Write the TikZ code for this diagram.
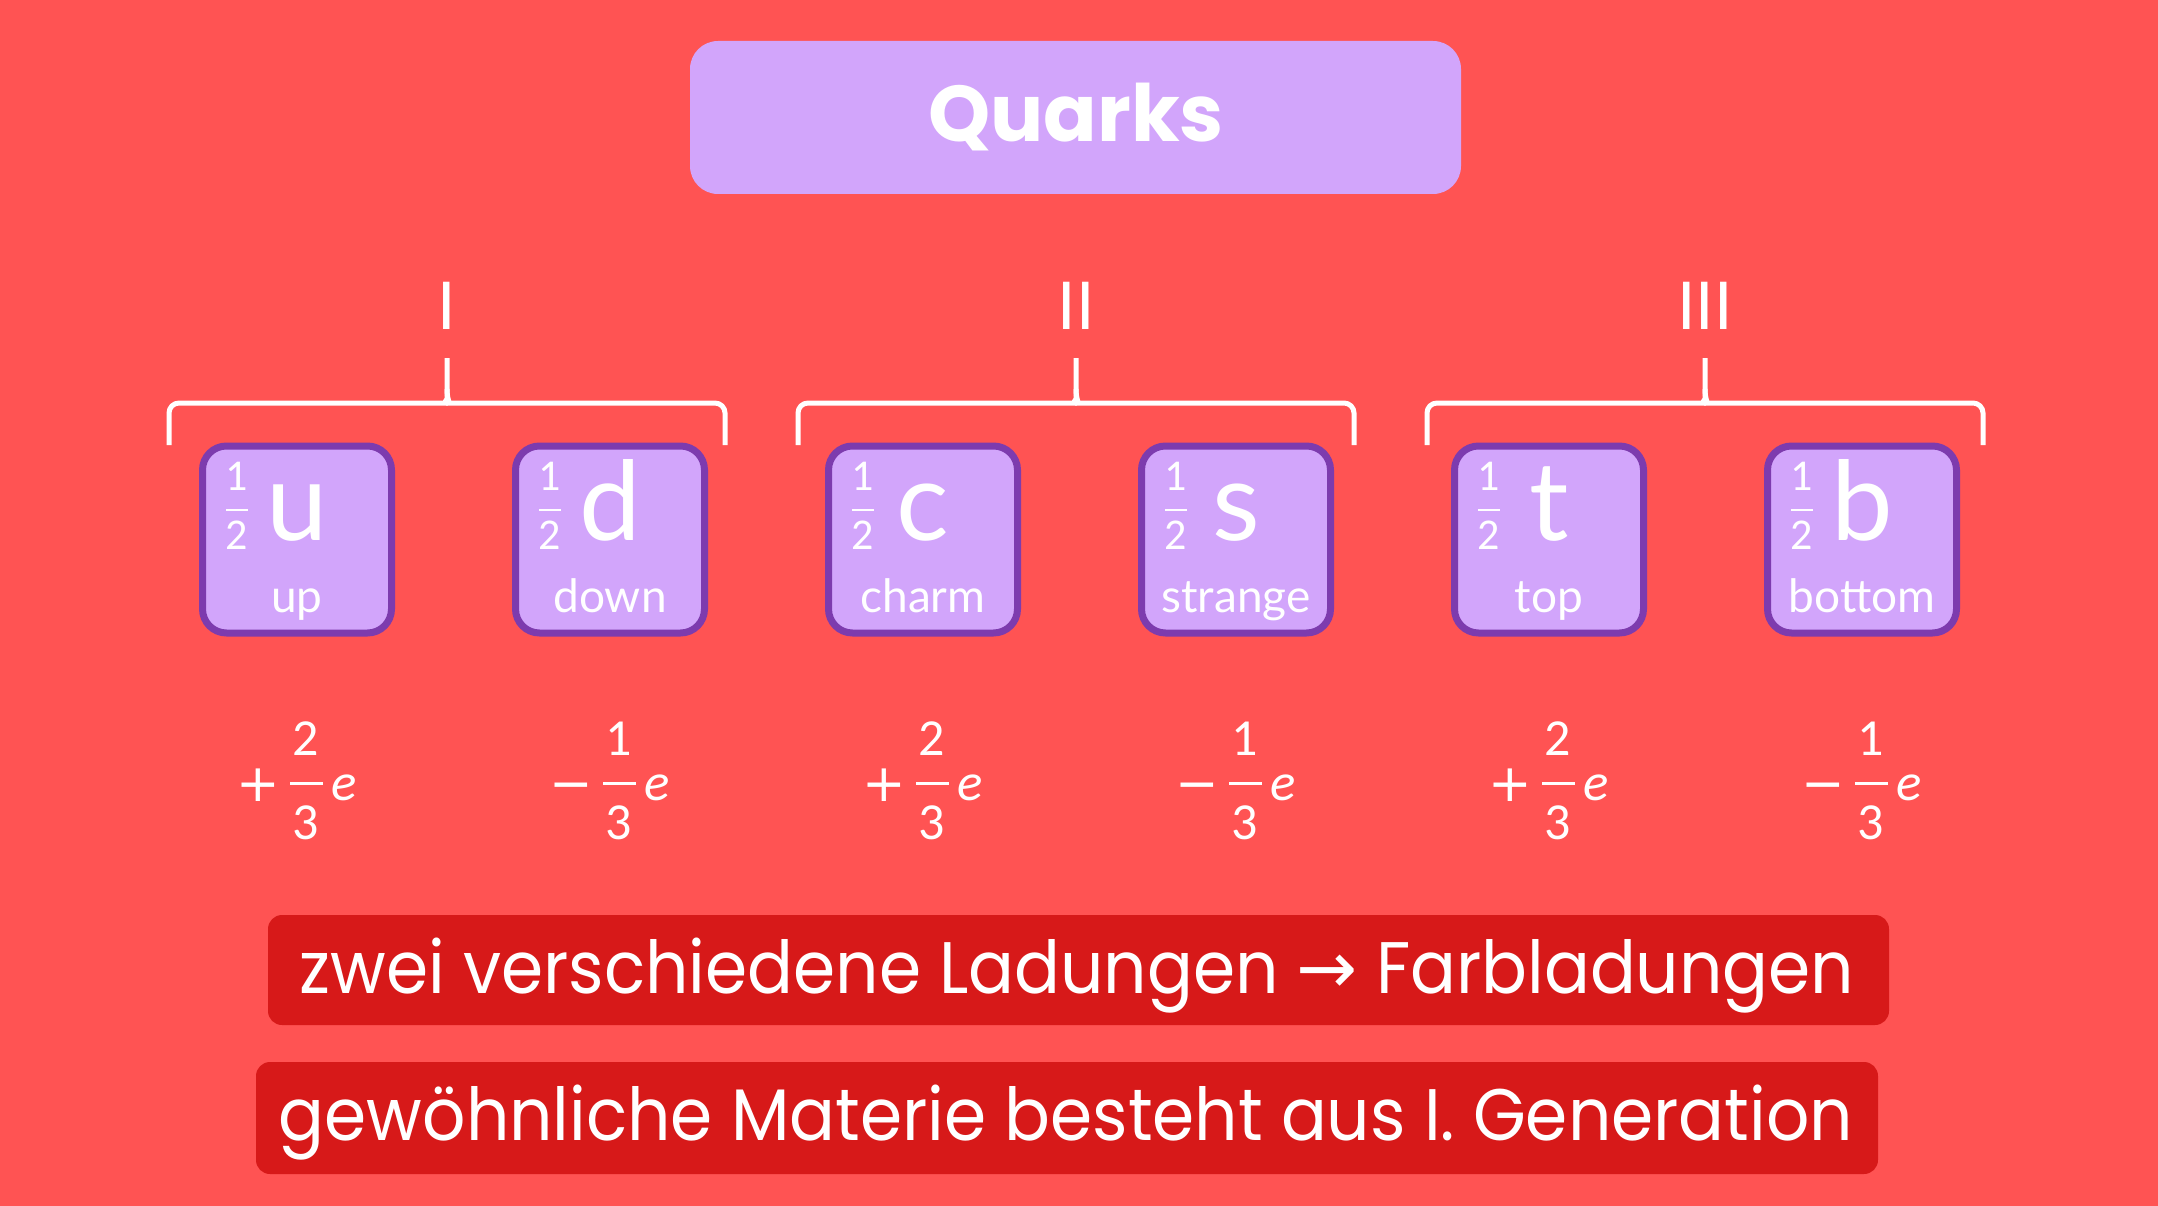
\documentclass[tikz,border=0pt]{standalone}
\usepackage{fontspec}
\setmainfont{Lato}
\newfontfamily\popfont{Poppins}
\newfontfamily\popnarrow[FakeStretch=0.93]{Poppins}
\newfontfamily\fracfont{Carlito}
\newfontfamily\arrowfont{DejaVu Sans}
\usetikzlibrary{calc, positioning}
\definecolor{bgred}{HTML}{FF5353}
\definecolor{lilac}{HTML}{D2A5FB}
\definecolor{plum}{HTML}{7D3BAE}
\definecolor{bannerred}{HTML}{D71919}
\tikzset{
    quarkbox/.style={draw=plum, fill=lilac, line width=7pt, rounded corners=24pt, minimum width=189pt, minimum height=187pt, inner sep=0pt},
    spin/.style={text=white, font=\fracfont\fontsize{44}{50}\selectfont, inner sep=0pt},
    flavour/.style={text=white, font=\fontsize{110}{120}\selectfont, inner sep=0pt, anchor=base},
    flavourname/.style={text=white, font=\fontsize{46}{50}\selectfont, inner sep=0pt, anchor=base},
    chargenum/.style={text=white, font=\fracfont\fontsize{52}{60}\selectfont, inner sep=0pt},
    chargesign/.style={text=white, font=\arrowfont\fontsize{52}{60}\selectfont, inner sep=0pt, anchor=base},
    chargee/.style={text=white, font=\fracfont\itshape\fontsize{53}{60}\selectfont, inner sep=0pt},
    fracbar/.style={draw=white, line width=3pt},
    gennum/.style={text=white, font=\fontsize{66}{70}\selectfont, inner sep=0pt, anchor=base},
    brace/.style={draw=white, line width=5pt, rounded corners=10pt},
    titlebox/.style={fill=lilac, rounded corners=28pt, minimum width=771pt, minimum height=153pt, inner sep=0pt},
    titletext/.style={text=white, font=\popfont\bfseries\fontsize{79}{90}\selectfont, inner sep=0pt, anchor=base},
    banner/.style={fill=bannerred, rounded corners=14pt, minimum width=1621pt, minimum height=110pt, inner sep=0pt},
    bannertext/.style={text=white, font=\popnarrow\fontsize{73}{80}\selectfont, inner sep=0pt, anchor=base}
}
\newcommand{\quark}[4]{
    \node[quarkbox] (#1) at (#2, 539.5) {};
    \node[spin] (#1-sn) at ($(#1) + (-60, -63.5)$) {1};
    \node[spin] (#1-sd) at ($(#1) + (-60, -4.5)$) {2};
    \draw[fracbar, line width=2.5pt] ($(#1) + (-71, -29.5)$) -- ($(#1) + (-49, -29.5)$);
    \node[flavour] (#1-f) at ($(#1) + (0, 0.5)$) {#3};
    \node[flavourname] (#1-n) at ($(#1) + (0, 72.5)$) {#4};
}
\newcommand{\charge}[4]{
    \coordinate (#1) at (#2, 783);
    \node[chargesign] (#1-sign) at ($(#1) + (-39, 18)$) {#3};
    \node[chargenum] (#1-n) at ($(#1) + (9, -44.5)$) {#4};
    \node[chargenum] (#1-d) at ($(#1) + (9, 39.5)$) {3};
    \draw[fracbar] ($(#1) + (-7, 0)$) -- ($(#1) + (26, 0)$);
    \node[chargee] (#1-e) at ($(#1) + (47.5, 4.5)$) {e};
}
\newcommand{\generation}[3]{
    \node[gennum] (#1) at (#2, 330) {#3};
    \coordinate (#1-b) at (#2, 403);
    \draw[brace]
    ($(#1-b) + (-278, 42)$) -- ($(#1-b) + (-278, 0)$) -- ($(#1-b) + (-12, 0)$)
    .. controls ($(#1-b) + (-3, 0)$) and ($(#1-b) + (0, -4)$) .. ($(#1-b) + (0, -14)$) -- ($(#1-b) + (0, -45)$);
    \draw[brace]
    ($(#1-b) + (0, -14)$) .. controls ($(#1-b) + (0, -4)$) and ($(#1-b) + (3, 0)$) .. ($(#1-b) + (12, 0)$)
    -- ($(#1-b) + (278, 0)$) -- ($(#1-b) + (278, 42)$);
}
\begin{document}
\begin{tikzpicture}[x=1pt, y=-1pt]
    \fill[bgred] (0, 0) rectangle (2158, 1206);
    \node[titlebox] (title) at (1075.5, 117.5) {};
    \node[titletext] (title-t) at (1076, 142) {Quarks};
    \generation{gI}{447}{I}
    \generation{gII}{1076}{II}
    \generation{gIII}{1705}{III}
    \quark{qu}{297}{u}{up}
    \quark{qd}{610}{d}{down}
    \quark{qc}{923}{c}{charm}
    \quark{qs}{1236}{s}{strange}
    \quark{qt}{1549}{t}{top}
    \quark{qb}{1862}{b}{bottom}
    \charge{qu-q}{297}{+}{2}
    \charge{qd-q}{610}{−}{1}
    \charge{qc-q}{923}{+}{2}
    \charge{qs-q}{1236}{−}{1}
    \charge{qt-q}{1549}{+}{2}
    \charge{qb-q}{1862}{−}{1}
    \node[banner] (note1) at (1078.5, 970) {};
    \node[bannertext] (note1-t) at (1077, 993) {zwei verschiedene Ladungen {\arrowfont →} Farbladungen};
    \node[banner, minimum width=1622pt, minimum height=112pt] (note2) at (1067, 1118) {};
    \node[bannertext] (note2-t) at (1066, 1140) {gewöhnliche Materie besteht aus I. Generation};
\end{tikzpicture}
\end{document}
